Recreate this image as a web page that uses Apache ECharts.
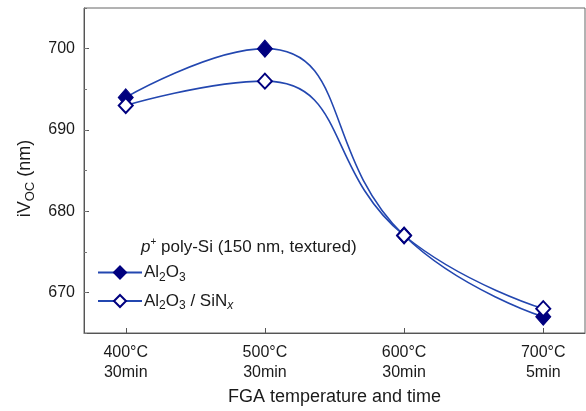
<!DOCTYPE html>
<html><head><meta charset="utf-8">
<script src="https://cdn.jsdelivr.net/npm/echarts@6/dist/echarts.min.js"></script>
<style>html,body{margin:0;padding:0;background:#fff}#c{width:586px;height:411px}</style>
</head><body><div id="c"></div>
<script>
var temps = [400, 500, 600, 700];
var tickLabels = ['400°C\n30min', '500°C\n30min', '600°C\n30min', '700°C\n5min'];
var al2o3 = [694, 700, 677, 667];
var al2o3SiNx = [693, 696, 677, 668];
var yLabelValues = [670, 680, 690, 700];

var FONT = '"Liberation Sans", Arial, sans-serif';
var TXT = '#1a1a1a';
var LINE = '#2347b0';
var MARK = '#00007f';

function pts(v) { return temps.map(function (t, i) { return [t, v[i]]; }); }

var chart = echarts.init(document.getElementById('c'), null, {renderer: 'canvas'});
chart.setOption({
  animation: false,
  backgroundColor: '#fff',
  grid: {left: 84, right: 1, top: 8, bottom: 78, show: true, borderColor: '#666', borderWidth: 1},
  title: {
    text: '{it|p}{sup|+}{n| poly-Si (150 nm, textured)}',
    left: 141, top: 237, padding: 0,
    textStyle: {
      fontFamily: FONT, fontSize: 17, color: TXT, fontWeight: 'normal',
      rich: {
        it: {fontFamily: FONT, fontSize: 17, fontStyle: 'italic', color: TXT},
        sup: {fontFamily: FONT, fontSize: 10, color: TXT, padding: [0, 0, 10, 0]},
        n: {fontFamily: FONT, fontSize: 17, color: TXT}
      }
    }
  },
  legend: {
    orient: 'vertical', left: 97, top: 264, padding: 0,
    itemWidth: 44, itemHeight: 15, itemGap: 9,
    data: ['Al2O3', 'Al2O3 / SiNx'],
    formatter: function (name) {
      return name === 'Al2O3' ? '{n|Al}{sub|2}{n|O}{sub|3}' : '{n|Al}{sub|2}{n|O}{sub|3}{n| / SiN}{subi|x}';
    },
    textStyle: {
      fontFamily: FONT, fontSize: 17, color: TXT, padding: [0, 0, 0, -3],
      rich: {
        n: {fontFamily: FONT, fontSize: 17, color: TXT},
        sub: {fontFamily: FONT, fontSize: 12, color: TXT, padding: [10, 0, 0, 0]},
        subi: {fontFamily: FONT, fontSize: 12, fontStyle: 'italic', color: TXT, padding: [10, 0, 0, 0]}
      }
    }
  },
  xAxis: {
    type: 'value', min: 370, max: 730,
    name: 'FGA temperature and time', nameLocation: 'middle', nameGap: 54,
    nameTextStyle: {fontFamily: FONT, fontSize: 18, color: TXT},
    axisLine: {lineStyle: {color: '#555', width: 1}},
    axisTick: {show: true, inside: true, length: 5, customValues: temps, lineStyle: {color: '#555'}},
    axisLabel: {
      customValues: temps, margin: 10, fontFamily: FONT, fontSize: 16, color: TXT, lineHeight: 20,
      formatter: function (v) { var i = temps.indexOf(v); return i >= 0 ? tickLabels[i] : ''; }
    },
    splitLine: {show: false}
  },
  yAxis: [{
    type: 'value', min: 665, max: 705, interval: 5,
    name: '{n|iV}{sub|OC}{n| (nm)}', nameLocation: 'middle', nameGap: 47,
    nameTextStyle: {
      fontFamily: FONT, fontSize: 18, color: TXT, padding: [0, 16, 0, 0],
      rich: {
        n: {fontFamily: FONT, fontSize: 18, color: TXT},
        sub: {fontFamily: FONT, fontSize: 13, color: TXT, padding: [10, 0, 0, 0]}
      }
    },
    axisLine: {show: true, lineStyle: {color: '#555', width: 1}},
    axisTick: {show: true, inside: true, length: 5, customValues: yLabelValues, lineStyle: {color: '#555'}},
    axisLabel: {customValues: yLabelValues, margin: 9, fontFamily: FONT, fontSize: 16, color: TXT},
    splitLine: {show: false}
  }, {
    type: 'value', min: 665, max: 705, interval: 5, position: 'left',
    axisLine: {show: false},
    axisTick: {show: true, inside: true, length: 3, lineStyle: {color: '#777'}},
    axisLabel: {show: false},
    splitLine: {show: false}
  }],
  series: [{
    name: 'Al2O3', type: 'line', smooth: 0.5, data: pts(al2o3),
    symbol: 'diamond', symbolSize: [15, 17],
    lineStyle: {color: LINE, width: 1.6},
    itemStyle: {color: MARK, borderColor: MARK, borderWidth: 1}
  }, {
    name: 'Al2O3 / SiNx', type: 'line', smooth: 0.5, data: pts(al2o3SiNx),
    symbol: 'diamond', symbolSize: [14, 15],
    lineStyle: {color: LINE, width: 1.6},
    itemStyle: {color: '#fff', borderColor: MARK, borderWidth: 2}
  }]
});
</script></body></html>
